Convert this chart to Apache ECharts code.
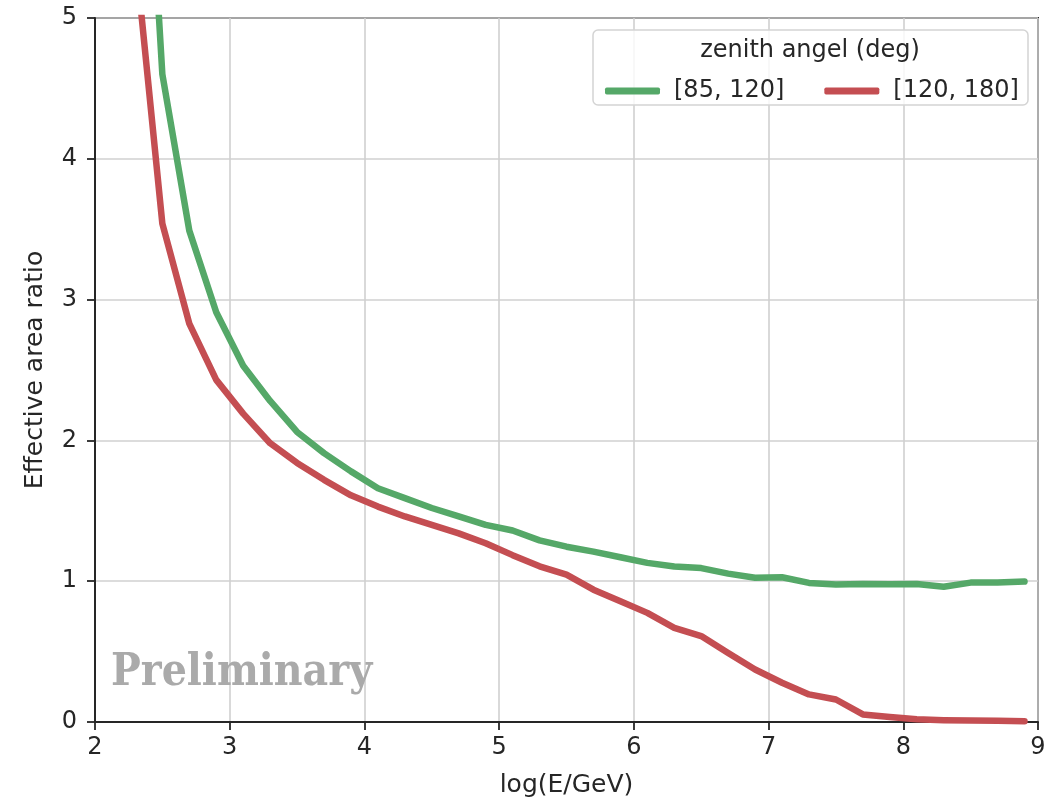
<!DOCTYPE html>
<html>
<head>
<meta charset="utf-8">
<title>Effective area ratio</title>
<script src="https://cdn.jsdelivr.net/npm/echarts@6/dist/echarts.min.js"></script>
<style>
  html, body { margin: 0; padding: 0; background: #ffffff; }
  #chart { width: 1053px; height: 805px; }
</style>
</head>
<body>
<div id="chart"></div>
<script>
// log10 of energy (GeV), bin centres
const logEnergy = [2.3, 2.5, 2.7, 2.9, 3.1, 3.3, 3.5, 3.7, 3.9, 4.1, 4.3, 4.5, 4.7, 4.9,
  5.1, 5.3, 5.5, 5.7, 5.9, 6.1, 6.3, 6.5, 6.7, 6.9, 7.1, 7.3, 7.5, 7.7, 7.9,
  8.1, 8.3, 8.5, 8.7, 8.9];

// zenith band [85, 120] deg
const ratioZen85to120 = [7.8, 4.6, 3.49, 2.91, 2.53, 2.28, 2.06, 1.91, 1.78, 1.66, 1.59, 1.52, 1.46, 1.40,
  1.36, 1.29, 1.245, 1.21, 1.17, 1.13, 1.105, 1.093, 1.054, 1.024, 1.028, 0.988, 0.976, 0.98, 0.978,
  0.98, 0.96, 0.99, 0.99, 0.997];

// zenith band [120, 180] deg
const ratioZen120to180 = [5.45, 3.54, 2.83, 2.43, 2.19, 1.98, 1.84, 1.72, 1.61, 1.53, 1.46, 1.40, 1.34, 1.27,
  1.185, 1.106, 1.047, 0.94, 0.858, 0.775, 0.669, 0.61, 0.49, 0.373, 0.279, 0.196, 0.16, 0.054, 0.035,
  0.02, 0.013, 0.01, 0.008, 0.006];

const xTicks = [2, 3, 4, 5, 6, 7, 8, 9];
const yTicks = [0, 1, 2, 3, 4, 5];

const seriesNames = ['[85, 120]', '[120, 180]'];
const legendTitle = 'zenith angel (deg)';
const watermark = 'Preliminary';

const GREEN = '#55a868';
const RED = '#c44e52';
const INK = '#262626';
const FONT = 'DejaVu Sans';

const pairs = ys => logEnergy.map((x, i) => [x, ys[i]]);

const chart = echarts.init(document.getElementById('chart'), null, { renderer: 'canvas' });

const axisCommon = {
  axisLine: { show: true, onZero: false, lineStyle: { color: INK, width: 2 } },
  axisTick: { show: true, inside: false, length: 8, lineStyle: { color: INK, width: 1.8 } },
  splitLine: { show: true, lineStyle: { color: '#d0d0d0', width: 1.6 } },
  nameTextStyle: { fontFamily: FONT, fontSize: 25, color: INK },
};

chart.setOption({
  animation: false,
  backgroundColor: '#ffffff',
  textStyle: { fontFamily: FONT },
  grid: {
    left: 95, right: 15, top: 18, bottom: 83,
    show: true, borderColor: INK, borderWidth: 2, backgroundColor: 'transparent'
  },
  xAxis: Object.assign({}, axisCommon, {
    type: 'value',
    min: xTicks[0], max: xTicks[xTicks.length - 1], interval: 1,
    name: 'log(E/GeV)', nameLocation: 'middle', nameGap: 51,
    axisLabel: { fontFamily: FONT, fontSize: 24, color: INK, margin: 14 }
  }),
  yAxis: Object.assign({}, axisCommon, {
    type: 'value',
    min: yTicks[0], max: yTicks[yTicks.length - 1], interval: 1,
    name: 'Effective area ratio', nameLocation: 'middle', nameGap: 47, nameRotate: 90,
    axisLabel: { fontFamily: FONT, fontSize: 24, color: INK, margin: 18 }
  }),
  legend: {
    data: seriesNames,
    left: 600, top: 74, z: 100,
    icon: 'roundRect',
    itemWidth: 55, itemHeight: 7,
    itemGap: 40,
    inactiveColor: '#ccc',
    textStyle: { fontFamily: FONT, fontSize: 24, color: INK, padding: [0, 0, 0, 9] }
  },
  graphic: [
    {
      type: 'rect', z: 1,
      shape: { x: 593, y: 30, width: 435, height: 75, r: 5 },
      style: { fill: 'rgba(255,255,255,0.8)', stroke: '#d4d4d4', lineWidth: 1.5 }
    },
    {
      type: 'text', z: 2,
      x: 810, y: 51,
      style: {
        text: legendTitle, fontFamily: FONT, fontSize: 24, fill: INK,
        align: 'center', verticalAlign: 'middle'
      }
    },
    {
      type: 'text', z: 2,
      x: 111, y: 696,
      style: {
        text: watermark, fontFamily: '"DejaVu Serif Condensed", "DejaVu Serif", serif',
        fontWeight: 'bold', fontSize: 44,
        fill: '#aaaaaa', align: 'left', verticalAlign: 'bottom'
      }
    }
  ],
  series: [
    {
      name: seriesNames[0], type: 'line', data: pairs(ratioZen85to120),
      showSymbol: false, clip: true, z: 3,
      lineStyle: { color: GREEN, width: 6.5, cap: 'round', join: 'round' },
      itemStyle: { color: GREEN }
    },
    {
      name: seriesNames[1], type: 'line', data: pairs(ratioZen120to180),
      showSymbol: false, clip: true, z: 3,
      lineStyle: { color: RED, width: 6.5, cap: 'round', join: 'round' },
      itemStyle: { color: RED }
    }
  ]
});
</script>
</body>
</html>
